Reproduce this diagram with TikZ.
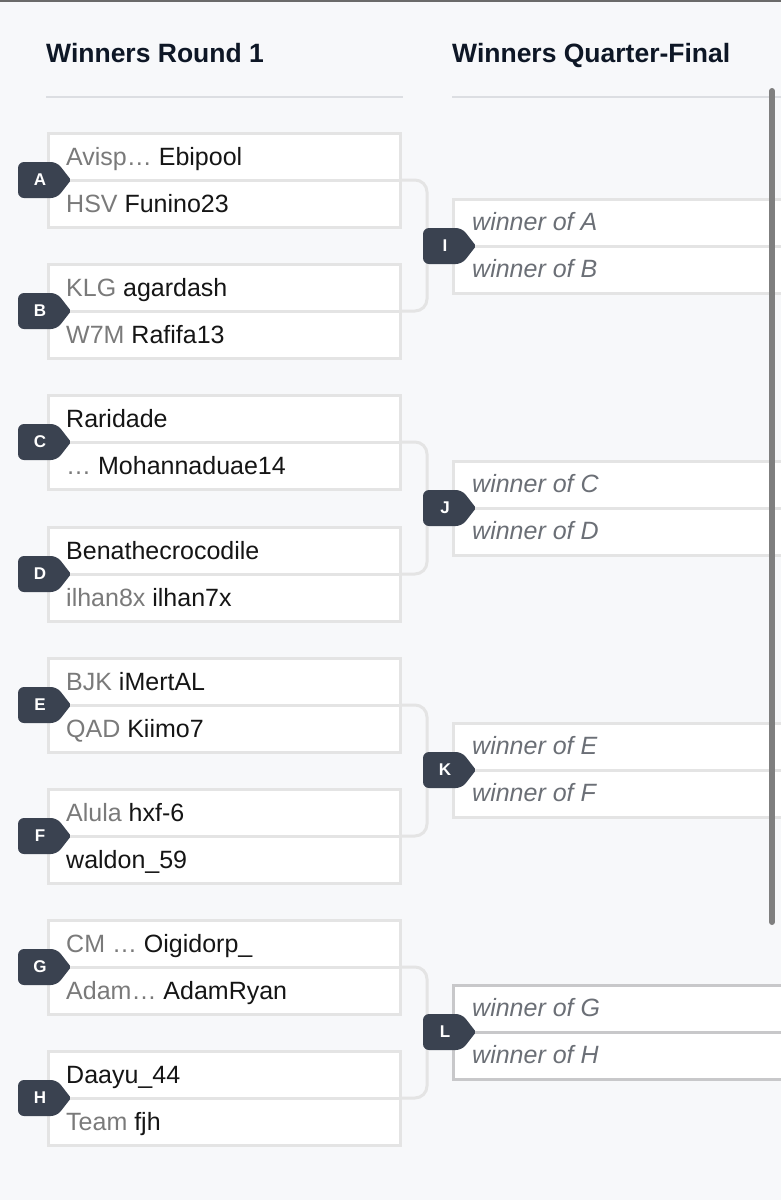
\documentclass[tikz,border=0pt]{standalone}
\usepackage{fontspec}
\setmainfont{Liberation Sans}
\usetikzlibrary{calc}
\definecolor{bg}{HTML}{F7F8FA}
\definecolor{boxline}{HTML}{E4E4E4}
\definecolor{boxlineL}{HTML}{C8C8CA}
\definecolor{headc}{HTML}{0E1726}
\definecolor{hline}{HTML}{DCDEE2}
\definecolor{prec}{HTML}{7A7A7A}
\definecolor{namec}{HTML}{151515}
\definecolor{wofc}{HTML}{6B6F76}
\definecolor{badgec}{HTML}{3A4250}
\definecolor{scrollc}{HTML}{7F7F7F}
\definecolor{topc}{HTML}{6A6A6A}

\tikzset{
  matchbox/.style={draw=boxline, line width=3pt, fill=white, minimum width=352pt,
    minimum height=94pt, inner sep=0pt, anchor=west, rectangle},
  qbox/.style={draw=boxline, line width=3pt, fill=white, minimum width=360pt,
    minimum height=94pt, inner sep=0pt, anchor=west, rectangle},
  qboxL/.style={qbox, draw=boxlineL},
  divline/.style={draw=boxline, line width=3pt},
  divlineL/.style={draw=boxlineL, line width=3pt},
  rowtxt/.style={anchor=base west, inner sep=0pt, text=namec,
    font=\fontsize{25}{30}\selectfont},
  woftxt/.style={anchor=base west, inner sep=0pt, text=wofc,
    font=\fontsize{25}{30}\selectfont\itshape},
  headtxt/.style={anchor=base west, inner sep=0pt, text=headc,
    font=\fontsize{26.5}{32}\selectfont\bfseries},
  badgetxt/.style={inner sep=0pt, text=white,
    font=\fontsize{17}{17}\selectfont\bfseries},
  badgeshape/.style={fill=badgec, rounded corners=6pt},
  conn/.style={draw=boxline, line width=3pt, rounded corners=12pt},
}

\newcommand\badgeR[4]{%
  \fill[badgeshape] (#2,#3-18) -- (#2+39,#3-18) [rounded corners=2pt] -- (#2+53,#3) [rounded corners=6pt] -- (#2+39,#3+18) -- (#2,#3+18) -- cycle;
  \node[badgetxt] (#1) at (#2+22,#3) {#4};
}
\newcommand\matchR[6]{%
  \node[matchbox] (#1) at (47,#2) {};
  \draw[divline] (#1.west) -- (#1.east);
  \node[rowtxt] (#1top) at (66,#2-15) {\textcolor{prec}{#3}#4};
  \node[rowtxt] (#1bot) at (66,#2+32) {\textcolor{prec}{#5}#6};
  \badgeR{#1badge}{18}{#2}{#1}
}
\newcommand\matchQ[5]{%
  \node[#5] (#1) at (452,#2) {};
  \draw[divline] (#1.west) -- (#1.east);
  \node[woftxt] (#1top) at (472,#2-16) {#3};
  \node[woftxt] (#1bot) at (472,#2+31) {#4};
  \badgeR{#1badge}{423}{#2}{#1}
}

\begin{document}
\begin{tikzpicture}[x=1pt,y=-1pt]
\useasboundingbox (0,0) rectangle (781,1200);
\clip (0,0) rectangle (781,1200);
\fill[bg] (0,0) rectangle (781,1200);
\fill[topc] (0,0) rectangle (781,2);

% headers
\node[headtxt] (h1) at (46,62) {Winners Round 1};
\node[headtxt] (h2) at (452,62) {Winners Quarter-Final};
\draw[hline, line width=2pt] (46,97) -- (403,97);
\draw[hline, line width=2pt] (452,97) -- (781,97);

% Round 1 matches
\matchR{A}{180}{Avisp… }{Ebipool}{HSV }{Funino23}
\matchR{B}{311}{KLG }{agardash}{W7M }{Rafifa13}
\matchR{C}{442}{}{Raridade}{… }{Mohannaduae14}
\matchR{D}{574}{}{Benathecrocodile}{ilhan8x }{ilhan7x}
\matchR{E}{705}{BJK }{iMertAL}{QAD }{Kiimo7}
\matchR{F}{836}{Alula }{hxf-6}{}{waldon\_59}
\matchR{G}{967}{CM … }{Oigidorp\_}{Adam… }{AdamRyan}
\matchR{H}{1098}{}{Daayu\_44}{Team }{fjh}

% connectors
\draw[conn] (A.east) -- ++(25,0) |- (B.east);
\draw[conn] (C.east) -- ++(25,0) |- (D.east);
\draw[conn] (E.east) -- ++(25,0) |- (F.east);
\draw[conn] (G.east) -- ++(25,0) |- (H.east);

% Quarter-finals
\matchQ{I}{246}{winner of A}{winner of B}{qbox}
\matchQ{J}{508}{winner of C}{winner of D}{qbox}
\matchQ{K}{770}{winner of E}{winner of F}{qbox}
\node[qboxL] (L) at (452,1032) {};
\draw[divlineL] (L.west) -- (L.east);
\node[woftxt] (Ltop) at (472,1016) {winner of G};
\node[woftxt] (Lbot) at (472,1063) {winner of H};
\badgeR{Lbadge}{423}{1032}{L}

% scrollbar
\draw[scrollc, line width=6pt, line cap=round] (772,91) -- (772,922);
\end{tikzpicture}
\end{document}
